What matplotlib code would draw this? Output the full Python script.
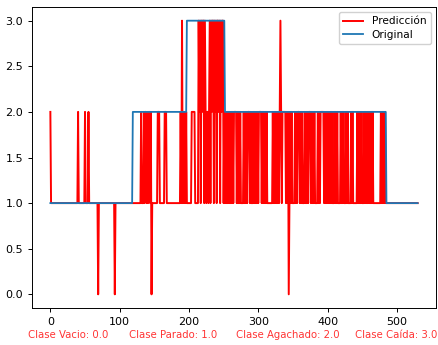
import numpy as np
import matplotlib
matplotlib.use("Agg")
import matplotlib.pyplot as plt

# Ground-truth class per segment (class level, number of samples)
orig_levels = [1, 2, 3, 2, 1]
orig_lengths = [119, 78, 55, 233, 46]

# Predicted class per sample, ten samples per group
pred_0_99 = ("2111111111 1111111111 1111111111 1111111111 2111111111 "
             "2111121111 1111111110 1111111111 1111111111 1110111111")
pred_100_199 = ("1111111111 1111111111 1111111111 1211121221 2122120111 "
                "1111122211 1111122211 1111111111 1111111121 3121212111")
pred_200_299 = ("1111222221 1111323132 3313212212 3132331323 1332313233 "
                "1212121212 1212122221 2121211112 1212122212 1112121212")
pred_300_399 = ("1222212121 2121111111 1212121212 1232122222 1212012121 "
                "1112121222 1212111212 1212221212 1211112121 2222212121")
pred_400_499 = ("2121212111 2121211112 1212111212 1111212111 1112121212 "
                "1112121212 1212121111 1111111212 1212111111 1111111111")
pred_500_530 = "1111111111 1111111111 1111111111 1"

class_names = ["Clase Vacio: 0.0", "Clase Parado: 1.0",
               "Clase Agachado: 2.0", "Clase Caída: 3.0"]

pred = np.array([int(c) for c in "".join(
    [pred_0_99, pred_100_199, pred_200_299, pred_300_399,
     pred_400_499, pred_500_530]).replace(" ", "")], dtype=float)
orig = np.repeat(np.array(orig_levels, dtype=float), orig_lengths)

W, H = 438, 345
fig = plt.figure(figsize=(W / 100, H / 100), dpi=100)
ax = fig.add_axes([32 / W, 1 - 308 / H, (436 - 32) / W, (308 - 7) / H])

ax.plot(np.arange(len(pred)), pred, color="red", lw=1.4, label="Predicción")
ax.plot(np.arange(len(orig)), orig, color="#1f77b4", lw=1.3, label="Original")

ax.tick_params(labelsize=8, length=3, width=0.7)
for s in ax.spines.values():
    s.set_linewidth(0.7)
ax.set_yticks([0.0, 0.5, 1.0, 1.5, 2.0, 2.5, 3.0])
ax.legend(loc="upper right", fontsize=7.6, framealpha=0.9,
          handlelength=1.9, borderpad=0.4, labelspacing=0.3)

x_left = [28, 129, 236, 355]
for name, xl in zip(class_names, x_left):
    fig.text(xl / W, 1 - 335 / H, name, color="red", fontsize=7.3,
             ha="left", va="center", alpha=0.8)

fig.savefig("out.png", dpi=100)
